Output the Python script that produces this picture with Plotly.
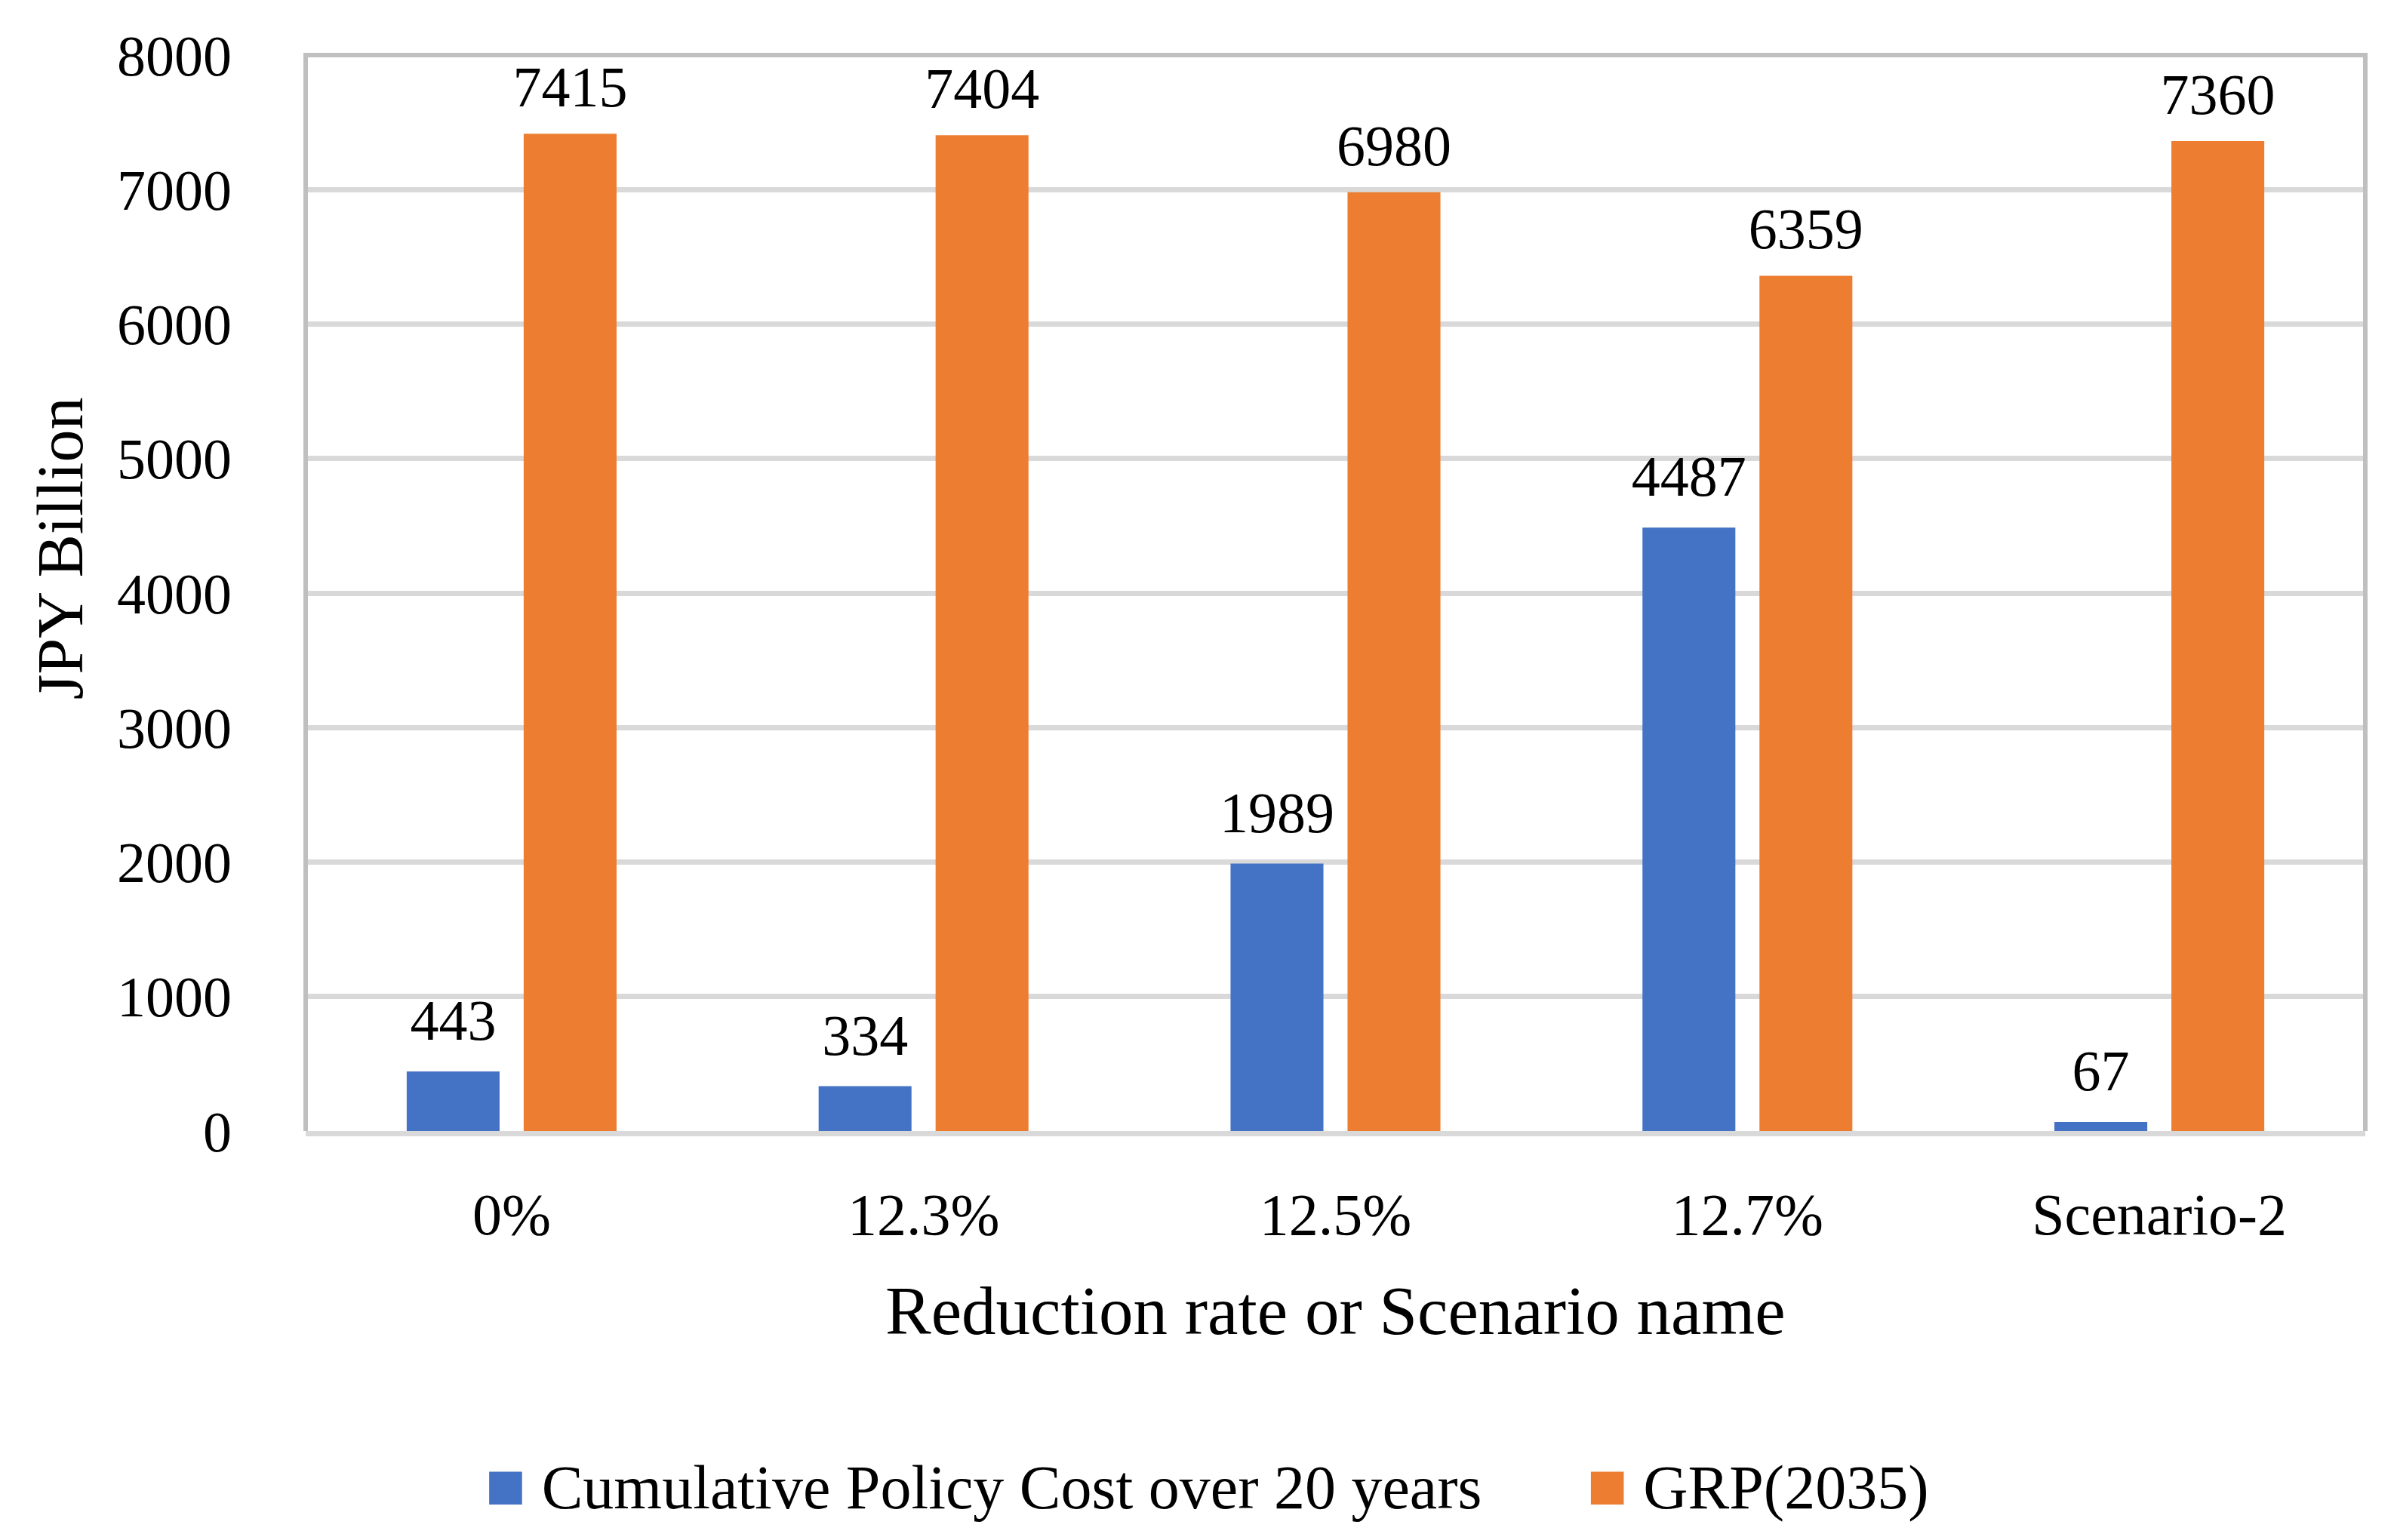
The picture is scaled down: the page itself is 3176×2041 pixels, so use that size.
import plotly.graph_objects as go

categories = ["0%", "12.3%", "12.5%", "12.7%", "Scenario-2"]
policy_cost = [443, 334, 1989, 4487, 67]
grp_2035 = [7415, 7404, 6980, 6359, 7360]
y_tick_values = [0, 1000, 2000, 3000, 4000, 5000, 6000, 7000, 8000]
series_names = ["Cumulative Policy Cost over 20 years", "GRP(2035)"]
x_title = "Reduction rate or Scenario name"
y_title = "JPY Billion"

BLUE = "#4472C4"
ORANGE = "#ED7D31"
FONT = "Liberation Serif"

series = [
    (policy_cost, BLUE, "g1", 35),
    (grp_2035, ORANGE, "g2", 26),
]

fig = go.Figure()
for vals, color, grp, _ in series:
    fig.add_trace(go.Bar(
        x=categories, y=vals, offsetgroup=grp,
        marker=dict(color=color, line=dict(width=0)),
        showlegend=False, hoverinfo="skip",
    ))

# value labels: text-only scatter aligned with the grouped bars
for vals, color, grp, pad in series:
    fig.add_trace(go.Scatter(
        x=categories, y=vals, offsetgroup=grp,
        mode="markers+text",
        marker=dict(size=pad, color="rgba(0,0,0,0)"),
        text=[str(v) for v in vals], textposition="top center",
        textfont=dict(family=FONT, size=76, color="black"),
        cliponaxis=False, showlegend=False, hoverinfo="skip",
    ))

for name, (vals, color, grp, _) in zip(series_names, series):
    fig.add_trace(go.Scatter(
        x=[None], y=[None], mode="markers", offsetgroup=grp,
        marker=dict(color="rgba(0,0,0,0)", size=1),
        name=f"<span style='color:{color};font-size:90px'>■</span> {name}",
        showlegend=True, hoverinfo="skip",
    ))

fig.update_layout(
    width=3176, height=2041,
    margin=dict(l=405, r=42, t=73, b=542, autoexpand=False),
    paper_bgcolor="white", plot_bgcolor="white",
    barmode="group", bargap=0.432, bargroupgap=0.206,
    scattermode="group", scattergap=0.432,
    font=dict(family=FONT, color="black"),
    showlegend=True,
    legend=dict(
        orientation="h", xref="container", yref="container",
        x=0.1602, xanchor="left", y=0.036, yanchor="middle",
        font=dict(family=FONT, size=82, color="black"),
        itemwidth=124,
        bgcolor="rgba(0,0,0,0)",
    ),
    xaxis=dict(
        showline=True, linecolor="#D9D9D9", linewidth=7,
        ticks="", showgrid=False, zeroline=False,
        tickfont=dict(family=FONT, size=78, color="black"),
        ticklabelstandoff=36,
    ),
    yaxis=dict(
        range=[0, 8000], tickvals=y_tick_values,
        ticktext=[str(v) for v in y_tick_values],
        showgrid=True, gridcolor="#D9D9D9", gridwidth=7,
        zeroline=False, showline=False, ticks="",
        tickfont=dict(family=FONT, size=76, color="black"),
        ticklabelstandoff=97,
    ),
    shapes=[dict(
        type="path", xref="paper", yref="paper",
        path="M0,0 L0,1 L1,1 L1,0",
        line=dict(color="#BFBFBF", width=6), layer="above",
    )],
    annotations=[
        dict(text=x_title, xref="paper", yref="paper", x=0.5, y=-0.1676,
             xanchor="center", yanchor="middle", showarrow=False,
             font=dict(family=FONT, size=91, color="black")),
        dict(text=y_title, xref="paper", yref="paper", x=-0.119, y=0.5414,
             xanchor="center", yanchor="middle", showarrow=False, textangle=-90,
             font=dict(family=FONT, size=86, color="black")),
    ],
)

fig.write_html("out.html", config={"displayModeBar": False},
               post_script="document.body.style.margin='0';")
